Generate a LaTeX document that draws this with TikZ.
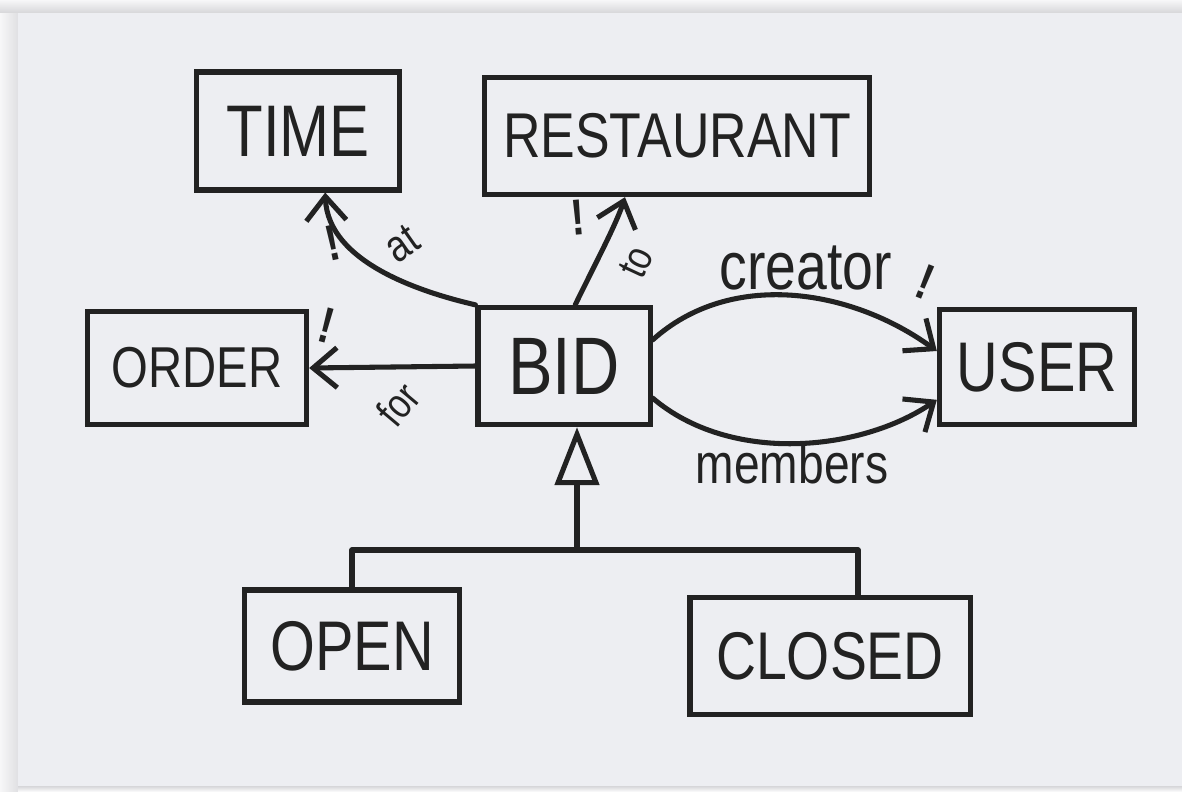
\documentclass[tikz,border=0pt]{standalone}
\usepackage{fontspec}
\newfontfamily\hand{Liberation Sans}[FakeStretch=0.82]
\usetikzlibrary{arrows.meta,calc}
\definecolor{ink}{HTML}{222222}
\definecolor{paper}{HTML}{EDEEF2}
\definecolor{shade}{HTML}{D6D6D9}
\definecolor{outside}{HTML}{F7F7F8}
\tikzset{
  box/.style={draw=ink, line width=3.6pt, inner sep=0pt, text=ink, font=\hand\fontsize{48}{50}\selectfont},
  link/.style={draw=ink, line width=3.6pt, line cap=round, -{Straight Barb[length=0.6cm, width=1.0cm, line width=3.6pt]}},
  inh/.style={draw=ink, line width=3.6pt, -{Triangle[open, length=1.45cm, width=1.1cm, line width=3.6pt]}},
  plain/.style={draw=ink, line width=3.6pt, line cap=round, line join=round},
  lbl/.style={text=ink, inner sep=0pt, font=\hand\fontsize{40}{42}\selectfont},
  bang/.style={text=ink, inner sep=0pt, font=\hand\bfseries\fontsize{36}{38}\selectfont}
}
\begin{document}
\begin{tikzpicture}[x=0.025cm, y=-0.025cm]
\useasboundingbox (0,0) rectangle (1182,791);
\fill[outside] (0,0) rectangle (1182,791);
\shade[top color=outside, bottom color=shade] (0,0) rectangle (1182,13);
\shade[left color=outside, right color=shade!70!outside] (0,13) rectangle (18,791);
\fill[paper] (18,13) rectangle (1182,786);
\shade[top color=shade, bottom color=outside] (18,786) rectangle (1182,791);

% boxes
\node[box, minimum width=5.08cm, minimum height=2.95cm, font=\hand\fontsize{52}{54}\selectfont] (TIME) at (298,131) {TIME};
\node[box, minimum width=9.63cm, minimum height=2.93cm, font=\hand\fontsize{45}{47}\selectfont] (REST) at (677,136) {RESTAURANT};
\node[box, minimum width=5.48cm, minimum height=2.83cm, font=\hand\fontsize{41}{43}\selectfont] (ORDER) at (197,368) {ORDER};
\node[box, minimum width=4.3cm, minimum height=2.93cm, font=\hand\fontsize{58}{60}\selectfont] (BID) at (564,366) {BID};
\node[box, minimum width=4.88cm, minimum height=2.88cm, font=\hand\fontsize{50}{52}\selectfont] (USER) at (1037,367) {USER};
\node[box, minimum width=5.38cm, minimum height=2.8cm, font=\hand\fontsize{50}{52}\selectfont] (OPEN) at (352,646) {OPEN};
\node[box, minimum width=7.0cm, minimum height=2.93cm] (CLOSED) at (830,656) {CLOSED};

% associations
\draw[link] (BID.north west) .. controls (420,292) and (328,262) .. ([xshift=0.68cm]TIME.south);
\draw[link] ([xshift=0.28cm]BID.north) .. controls (592,270) and (616,225) .. ([xshift=-1.3cm]REST.south);
\draw[link] (BID.west) -- (ORDER.east);
\draw[link] ([yshift=0.65cm]BID.east) .. controls (730,270) and (850,288) .. ([yshift=0.4cm]USER.west);
\draw[link] ([yshift=-0.8cm]BID.east) .. controls (730,464) and (860,452) .. ([yshift=-0.82cm]USER.west);

% labels
\node[lbl, font=\hand\fontsize{32}{34}\selectfont, rotate=35] (lat) at (402,244) {at};
\node[lbl, font=\hand\fontsize{30}{32}\selectfont, rotate=65] (lto) at (636,262) {to};
\node[lbl, font=\hand\fontsize{30}{32}\selectfont, rotate=50] (lfor) at (398,404) {for};
\node[lbl, font=\hand\fontsize{48}{50}\selectfont] (lcreator) at (806,268) {creator};
\node[lbl, font=\hand\fontsize{40}{42}\selectfont] (lmembers) at (792,463) {members};
\node[bang, rotate=12] (b1) at (333,243) {!};
\node[bang, rotate=-15] (b2) at (327,325) {!};
\node[bang, rotate=5] (b3) at (578,218) {!};
\node[bang, rotate=-22] (b4) at (925,282) {!};

% inheritance
\coordinate (jn) at (577,550);
\draw[plain] (OPEN.north) |- (jn) -| ([xshift=0.7cm]CLOSED.north);
\draw[inh] (jn) -- (jn |- BID.south);
\end{tikzpicture}
\end{document}
